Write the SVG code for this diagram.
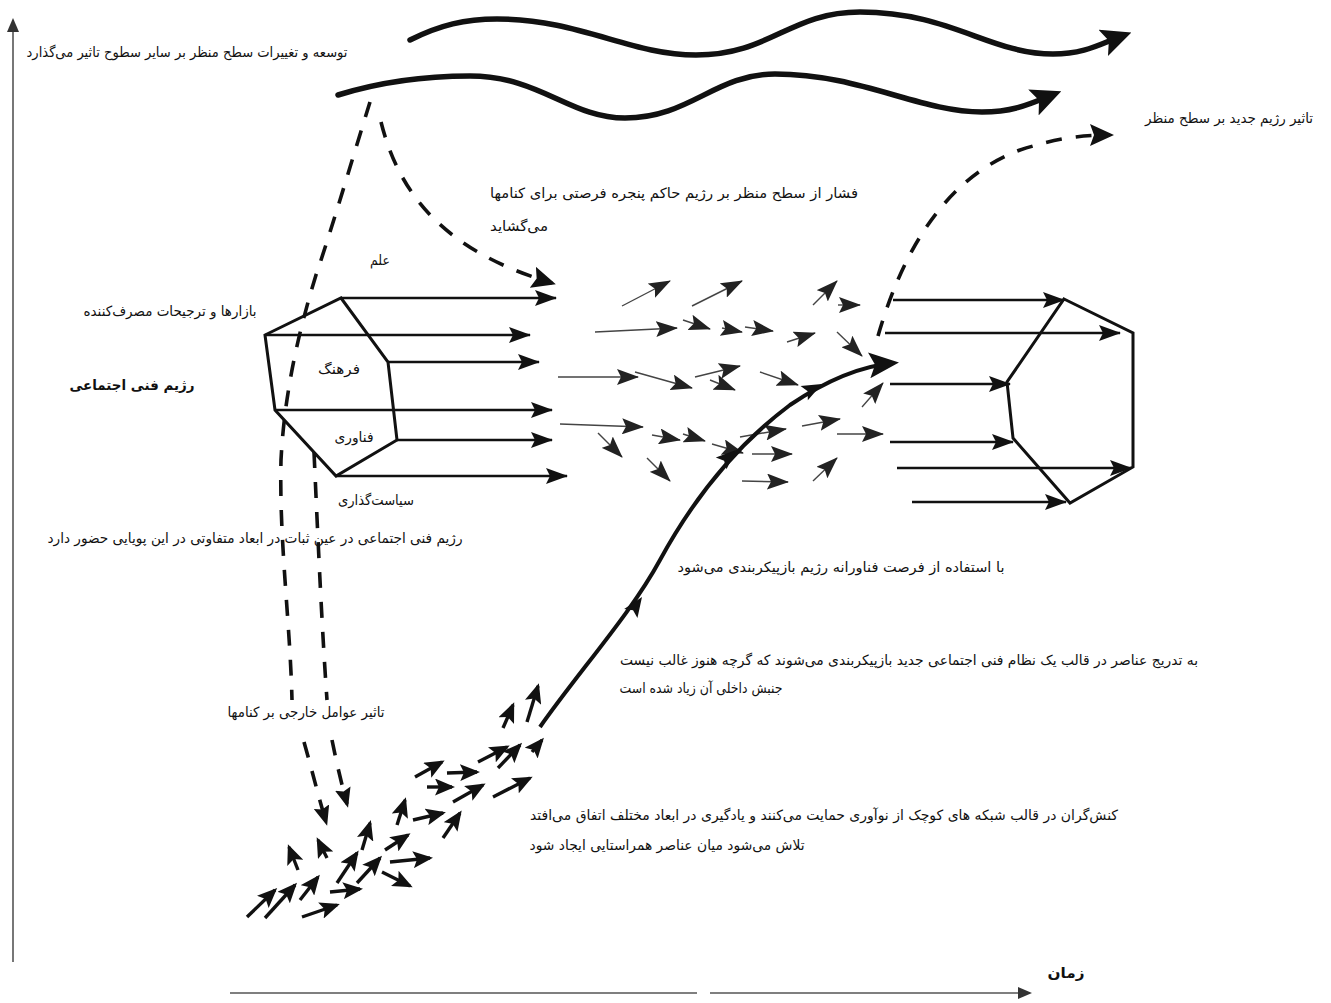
<svg xmlns="http://www.w3.org/2000/svg" width="1331" height="1003" viewBox="0 0 1331 1003">
<style>
text{font-family:"DejaVu Sans","Noto Sans",sans-serif;fill:#111;font-size:14px}
.b{font-weight:bold}
.wave{fill:none;stroke:#111;stroke-width:5.5;stroke-linecap:round}
.hex{fill:none;stroke:#111;stroke-width:3;stroke-linejoin:miter}
.harr{stroke:#111;stroke-width:2.4;marker-end:url(#mHex)}
.thin{stroke:#444;stroke-width:1.4;marker-end:url(#mThin)}
.bold{stroke:#111;stroke-width:3.4;marker-end:url(#mBold)}
.dash{fill:none;stroke:#111;stroke-width:3.6;stroke-dasharray:16 14}
.axis{stroke:#555;stroke-width:1.6;fill:none}
</style>
<defs>
<marker id="mThin" markerUnits="userSpaceOnUse" markerWidth="22" markerHeight="16" refX="21" refY="8" orient="auto"><path d="M0,0 L22,8 L0,16 L4,8 z" fill="#222"/></marker>
<marker id="mHex" markerUnits="userSpaceOnUse" markerWidth="22" markerHeight="16" refX="21" refY="8" orient="auto"><path d="M0,0 L22,8 L0,16 L4,8 z" fill="#111"/></marker>
<marker id="mBold" markerUnits="userSpaceOnUse" markerWidth="20" markerHeight="17" refX="17" refY="8.5" orient="auto"><path d="M0,0 L20,8.5 L0,17 L4,8.5 z" fill="#111"/></marker>
<marker id="mWave" markerUnits="userSpaceOnUse" markerWidth="30" markerHeight="28" refX="20" refY="14" orient="auto"><path d="M0,0 L30,14 L0,28 L6,14 z" fill="#111"/></marker>
<marker id="mCurve" markerUnits="userSpaceOnUse" markerWidth="30" markerHeight="26" refX="24" refY="13" orient="auto"><path d="M0,0 L30,13 L0,26 L6,13 z" fill="#111"/></marker>
<marker id="mDash" markerUnits="userSpaceOnUse" markerWidth="24" markerHeight="22" refX="20" refY="11" orient="auto"><path d="M0,0 L24,11 L0,22 L4,11 z" fill="#111"/></marker>
<marker id="mDashS" markerUnits="userSpaceOnUse" markerWidth="20" markerHeight="16" refX="16" refY="8" orient="auto"><path d="M0,0 L20,8 L0,16 L3,8 z" fill="#111"/></marker>
<marker id="mAxis" markerUnits="userSpaceOnUse" markerWidth="14" markerHeight="12" refX="10" refY="6" orient="auto"><path d="M0,0 L14,6 L0,12 z" fill="#333"/></marker>
</defs>
<rect width="1331" height="1003" fill="#fff"/>

<g id="axes">
<line class="axis" x1="13" y1="962" x2="13" y2="22" marker-end="url(#mAxis)"/>
<line class="axis" x1="230" y1="993" x2="697" y2="993"/>
<line class="axis" x1="710" y1="993" x2="1028" y2="993" marker-end="url(#mAxis)"/>
</g>

<g id="connectors">
<path class="wave" marker-end="url(#mWave)" d="M410,40 C440,25 465,19 497,19 C580,19 630,55 696,55 C770,55 790,12 860,12 C950,12 990,54 1053,54 C1085,54 1100,44 1122,36"/>
<path class="wave" marker-end="url(#mWave)" d="M338,95 C380,82 420,76 470,76 C540,76 570,118 625,118 C690,118 715,74 775,74 C860,74 920,112 982,112 C1015,112 1032,103 1052,95"/>
<path class="dash" marker-end="url(#mDash)" d="M381,122 C398,190 440,250 552,283"/>
<path class="dash" d="M370,102 C352,160 332,228 316,275 C296,340 284,400 281,460 C279,540 290,620 292,700"/>
<path class="dash" marker-end="url(#mDashS)" d="M304,742 C312,770 318,795 326,822"/>
<path class="dash" d="M314,452 C318,540 322,630 327,700"/>
<path class="dash" marker-end="url(#mDashS)" d="M332,740 C336,760 341,782 347,804"/>
<path class="dash" marker-end="url(#mDash)" d="M878,336 C900,260 940,180 1020,150 C1060,137 1085,135 1110,135"/>
<line class="harr" x1="341" y1="298" x2="556" y2="298"/>
<line class="harr" x1="265" y1="335" x2="530" y2="335"/>
<line class="harr" x1="388" y1="362" x2="539" y2="362"/>
<line class="harr" x1="275" y1="410" x2="552" y2="410"/>
<line class="harr" x1="397" y1="440" x2="552" y2="440"/>
<line class="harr" x1="336" y1="476" x2="567" y2="476"/>
<line class="thin" x1="622" y1="306" x2="670" y2="281"/>
<line class="thin" x1="692" y1="306" x2="742" y2="281"/>
<line class="thin" x1="595" y1="332" x2="677" y2="328"/>
<line class="thin" x1="683" y1="320" x2="710" y2="329"/>
<line class="thin" x1="722" y1="328" x2="742" y2="332"/>
<line class="thin" x1="745" y1="327" x2="773" y2="331"/>
<line class="thin" x1="787" y1="342" x2="815" y2="333"/>
<line class="thin" x1="813" y1="305" x2="837" y2="281"/>
<line class="thin" x1="838" y1="305" x2="860" y2="305"/>
<line class="thin" x1="837" y1="332" x2="862" y2="356"/>
<line class="thin" x1="558" y1="377" x2="638" y2="377"/>
<line class="thin" x1="635" y1="372" x2="692" y2="388"/>
<line class="thin" x1="695" y1="377" x2="740" y2="366"/>
<line class="thin" x1="710" y1="380" x2="735" y2="390"/>
<line class="thin" x1="760" y1="372" x2="798" y2="385"/>
<line class="thin" x1="560" y1="424" x2="643" y2="427"/>
<line class="thin" x1="598" y1="433" x2="622" y2="457"/>
<line class="thin" x1="652" y1="435" x2="680" y2="440"/>
<line class="thin" x1="683" y1="434" x2="705" y2="441"/>
<line class="thin" x1="712" y1="444" x2="743" y2="453"/>
<line class="thin" x1="740" y1="437" x2="786" y2="429"/>
<line class="thin" x1="802" y1="426" x2="840" y2="419"/>
<line class="thin" x1="837" y1="434" x2="883" y2="434"/>
<line class="thin" x1="862" y1="407" x2="883" y2="383"/>
<line class="thin" x1="647" y1="458" x2="670" y2="481"/>
<line class="thin" x1="752" y1="454" x2="792" y2="454"/>
<line class="thin" x1="742" y1="481" x2="788" y2="482"/>
<line class="thin" x1="813" y1="481" x2="837" y2="458"/>
<line class="bold" x1="247" y1="917" x2="275" y2="890"/>
<line class="bold" x1="265" y1="918" x2="295" y2="885"/>
<line class="bold" x1="300" y1="900" x2="318" y2="877"/>
<line class="bold" x1="302" y1="917" x2="337" y2="905"/>
<line class="bold" x1="330" y1="892" x2="360" y2="889"/>
<line class="bold" x1="298" y1="870" x2="289" y2="847"/>
<line class="bold" x1="327" y1="858" x2="318" y2="840"/>
<line class="bold" x1="337" y1="883" x2="357" y2="853"/>
<line class="bold" x1="357" y1="883" x2="380" y2="858"/>
<line class="bold" x1="362" y1="850" x2="370" y2="823"/>
<line class="bold" x1="382" y1="872" x2="410" y2="886"/>
<line class="bold" x1="385" y1="850" x2="408" y2="835"/>
<line class="bold" x1="390" y1="862" x2="430" y2="858"/>
<line class="bold" x1="397" y1="825" x2="405" y2="800"/>
<line class="bold" x1="413" y1="820" x2="443" y2="813"/>
<line class="bold" x1="443" y1="838" x2="460" y2="813"/>
<line class="bold" x1="427" y1="787" x2="452" y2="787"/>
<line class="bold" x1="415" y1="777" x2="442" y2="762"/>
<line class="bold" x1="447" y1="773" x2="477" y2="772"/>
<line class="bold" x1="453" y1="802" x2="483" y2="785"/>
<line class="bold" x1="493" y1="797" x2="530" y2="778"/>
<line class="bold" x1="478" y1="762" x2="507" y2="747"/>
<line class="bold" x1="498" y1="768" x2="520" y2="745"/>
<line class="bold" x1="532" y1="752" x2="542" y2="740"/>
<line class="bold" x1="503" y1="728" x2="513" y2="705"/>
<line class="bold" x1="527" y1="722" x2="538" y2="686"/>
<path fill="none" stroke="#111" stroke-width="4" marker-end="url(#mCurve)" d="M540,727 C580,670 630,615 660,560 C690,505 730,450 790,405 C830,378 862,366 893,363"/>
<polygon fill="#111" points="0,0 -20,-8 -16,0 -20,8" transform="translate(642,597) rotate(-56)"/>
<polygon fill="#111" points="0,0 -20,-8 -16,0 -20,8" transform="translate(736,450) rotate(-42)"/>
<polygon fill="#111" points="0,0 -20,-8 -16,0 -20,8" transform="translate(822,384) rotate(-27)"/>
<line class="harr" x1="893" y1="300" x2="1064" y2="300"/>
<line class="harr" x1="885" y1="333" x2="1120" y2="333"/>
<line class="harr" x1="890" y1="384" x2="1010" y2="384"/>
<line class="harr" x1="890" y1="442" x2="1013" y2="442"/>
<line class="harr" x1="897" y1="468" x2="1131" y2="468"/>
<line class="harr" x1="912" y1="502" x2="1066" y2="502"/>
</g>

<g id="regime-old">
<polygon class="hex" points="341,298 388,362 397,440 336,476 275,410 265,335"/>
</g>
<g id="regime-new">
<polygon class="hex" points="1064,299 1133,333 1133,467 1070,503 1013,438 1007,382"/>
</g>

<g id="label-landscape"><text x="187" y="57" text-anchor="middle" textLength="321" lengthAdjust="spacingAndGlyphs">توسعه و تغییرات سطح منظر بر سایر سطوح تاثیر می‌گذارد</text></g>
<g id="label-new-regime"><text x="1229" y="123" text-anchor="middle" textLength="168" lengthAdjust="spacingAndGlyphs">تاثیر رژیم جدید بر سطح منظر</text></g>
<g id="label-pressure">
<text x="674" y="198" text-anchor="middle" font-size="15" textLength="368" lengthAdjust="spacingAndGlyphs">فشار از سطح منظر بر رژیم حاکم پنجره فرصتی برای کنامها</text>
<text x="519" y="231" text-anchor="middle" font-size="15" textLength="58" lengthAdjust="spacingAndGlyphs">می‌گشاید</text>
</g>
<g id="label-science"><text x="380" y="265" text-anchor="middle" font-size="12" textLength="20" lengthAdjust="spacingAndGlyphs">علم</text></g>
<g id="label-markets"><text x="170" y="316" text-anchor="middle" textLength="173" lengthAdjust="spacingAndGlyphs">بازارها و ترجیحات مصرف‌کننده</text></g>
<g id="label-regime"><text class="b" x="132" y="390" text-anchor="middle" font-size="16" textLength="125" lengthAdjust="spacingAndGlyphs">رژیم فنی اجتماعی</text></g>
<g id="label-culture"><text x="339" y="374" text-anchor="middle" font-size="13" textLength="42" lengthAdjust="spacingAndGlyphs">فرهنگ</text></g>
<g id="label-tech"><text x="354" y="442" text-anchor="middle" font-size="13" textLength="39" lengthAdjust="spacingAndGlyphs">فناوری</text></g>
<g id="label-policy"><text x="376" y="505" text-anchor="middle" font-size="13" textLength="76" lengthAdjust="spacingAndGlyphs">سیاست‌گذاری</text></g>
<g id="label-stability"><text x="255" y="543" text-anchor="middle" textLength="415" lengthAdjust="spacingAndGlyphs">رژیم فنی اجتماعی در عین ثبات در ابعاد متفاوتی در این پویایی حضور دارد</text></g>
<g id="label-reconfig"><text x="841" y="572" text-anchor="middle" textLength="327" lengthAdjust="spacingAndGlyphs">با استفاده از فرصت فناورانه رژیم بازپیکربندی می‌شود</text></g>
<g id="label-gradual">
<text x="909" y="665" text-anchor="middle" textLength="578" lengthAdjust="spacingAndGlyphs">به تدریج عناصر در قالب یک نظام فنی اجتماعی جدید بازپیکربندی می‌شوند که گرچه هنوز غالب نیست</text>
<text x="701" y="693" text-anchor="middle" textLength="163" lengthAdjust="spacingAndGlyphs">جنبش داخلی آن زیاد شده است</text>
</g>
<g id="label-external"><text x="306" y="717" text-anchor="middle" textLength="157" lengthAdjust="spacingAndGlyphs">تاثیر عوامل خارجی بر کنامها</text></g>
<g id="label-niches">
<text x="824" y="820" text-anchor="middle" textLength="588" lengthAdjust="spacingAndGlyphs">کنش‌گران در قالب شبکه های کوچک از نوآوری حمایت می‌کنند و یادگیری در ابعاد مختلف اتفاق می‌افتد</text>
<text x="667" y="850" text-anchor="middle" textLength="275" lengthAdjust="spacingAndGlyphs">تلاش می‌شود میان عناصر همراستایی ایجاد شود</text>
</g>
<g id="label-time"><text class="b" x="1066" y="978" text-anchor="middle" font-size="15" textLength="37" lengthAdjust="spacingAndGlyphs">زمان</text></g>
</svg>
